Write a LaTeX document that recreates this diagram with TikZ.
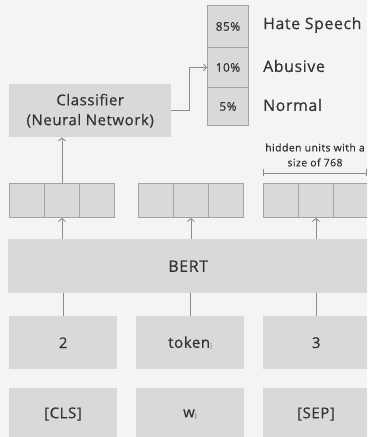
\documentclass[tikz,border=0pt]{standalone}
\usepackage{fontspec}
\setmainfont{Open Sans}[LetterSpace=4,FakeBold=0.5]
\usetikzlibrary{arrows.meta}
\definecolor{bgc}{HTML}{F4F4F4}
\definecolor{boxc}{HTML}{D9D9D9}
\definecolor{edgec}{HTML}{A3A3A3}
\definecolor{arrc}{HTML}{8C8C8C}
\definecolor{txtc}{HTML}{333333}
\newcommand{\subi}{{\fontsize{8}{8}\selectfont\color{gray}\raisebox{-1.2bp}{i}}}
\tikzset{
  blk/.style={fill=boxc,draw=none,inner sep=0,anchor=north west,text=txtc,font=\fontsize{15}{17}\selectfont},
  cellbox/.style={fill=boxc,draw=edgec,line width=0.9bp,inner sep=0,anchor=north west,minimum width=35bp,minimum height=34bp},
  probbox/.style={fill=boxc,draw=edgec,line width=0.9bp,inner sep=0,anchor=north west,minimum width=41bp,text=txtc,font=\fontsize{12}{14}\selectfont},
  lbl/.style={anchor=west,inner sep=0,text=txtc,font=\fontsize{15.9}{18}\selectfont},
  arr/.style={draw=arrc,line width=0.9bp,-{Straight Barb[length=3bp,width=7bp]}},
  ln/.style={draw=arrc,line width=0.9bp},
}
\begin{document}
\begin{tikzpicture}[x=1bp,y=-1bp]
\fill[bgc] (0,0) rectangle (367,437);
\useasboundingbox (0,0) rectangle (367,437);
\begin{scope}
\clip (0,0) rectangle (367,437);
% probability boxes
\node[probbox,minimum height=42bp] (p1) at (207,5) {85\%};
\node[probbox,minimum height=40bp] (p2) at (207,47) {10\%};
\node[probbox,minimum height=38bp] (p3) at (207,87) {5\%};
\node[lbl] (l1) at (263,25) {Hate Speech};
\node[lbl] (l2) at (263,66) {Abusive};
\node[lbl] (l3) at (263,105) {Normal};
% classifier
\node[blk,minimum width=162bp,minimum height=53bp,align=center] (cls) at (9,84) {Classifier\\[3bp](Neural Network)};
\draw[arr] (cls.east) -- ++(18,0) |- (p2.west);
% hidden units
\node[cellbox] (h11) at (9,183) {};
\node[cellbox] (h12) at (44,183) {};
\node[cellbox] (h13) at (79,183) {};
\node[cellbox] (h21) at (138,183) {};
\node[cellbox] (h22) at (173,183) {};
\node[cellbox] (h23) at (208,183) {};
\node[cellbox] (h31) at (263,183) {};
\node[cellbox] (h32) at (298,183) {};
\node[cellbox] (h33) at (333,183) {};
\draw[arr] (h12.north) -- (h12.north |- cls.south);
% dimension
\coordinate (d1) at (263,173);
\coordinate (d2) at (366.5,173);
\draw[draw=arrc,line width=0.9bp,{Bar[width=7bp]}-{Bar[width=7bp]}] (d1) -- (d2);
\node[inner sep=0,align=center,text=txtc,font=\fontsize{10.5}{15}\selectfont] (dl) at (315,155) {hidden units with a\\size of 768};
% BERT
\node[blk,minimum width=360bp,minimum height=54bp,font=\fontsize{16}{18}\selectfont] (bert) at (8,239) {BERT};
\draw[arr] (bert.north -| h12.south) -- (h12.south);
\draw[arr] (bert.north -| h22.south) -- (h22.south);
\draw[arr] (bert.north -| h32.south) -- (h32.south);
% tokens
\node[blk,minimum width=108bp,minimum height=53bp] (t1) at (9,316) {2};
\node[blk,minimum width=108bp,minimum height=53bp] (t2) at (136,316) {token\subi};
\node[blk,minimum width=106bp,minimum height=53bp] (t3) at (263,316) {3};
\draw[ln] (t1.north) -- (t1.north |- bert.south);
\draw[ln] (t2.north) -- (t2.north |- bert.south);
\draw[ln] (t3.north) -- (t3.north |- bert.south);
% words
\node[blk,minimum width=108bp,minimum height=98bp] (w1) at (9,388) {};
\node[blk,minimum width=108bp,minimum height=98bp] (w2) at (136,388) {};
\node[blk,minimum width=106bp,minimum height=98bp] (w3) at (263,388) {};
\node[text=txtc,font=\fontsize{15}{17}\selectfont,inner sep=0] (wl1) at (63,414) {[CLS]};
\node[text=txtc,font=\fontsize{15}{17}\selectfont,inner sep=0] (wl2) at (190,414) {w\subi};
\node[text=txtc,font=\fontsize{15}{17}\selectfont,inner sep=0] (wl3) at (316,414) {[SEP]};
\end{scope}
\end{tikzpicture}
\end{document}
